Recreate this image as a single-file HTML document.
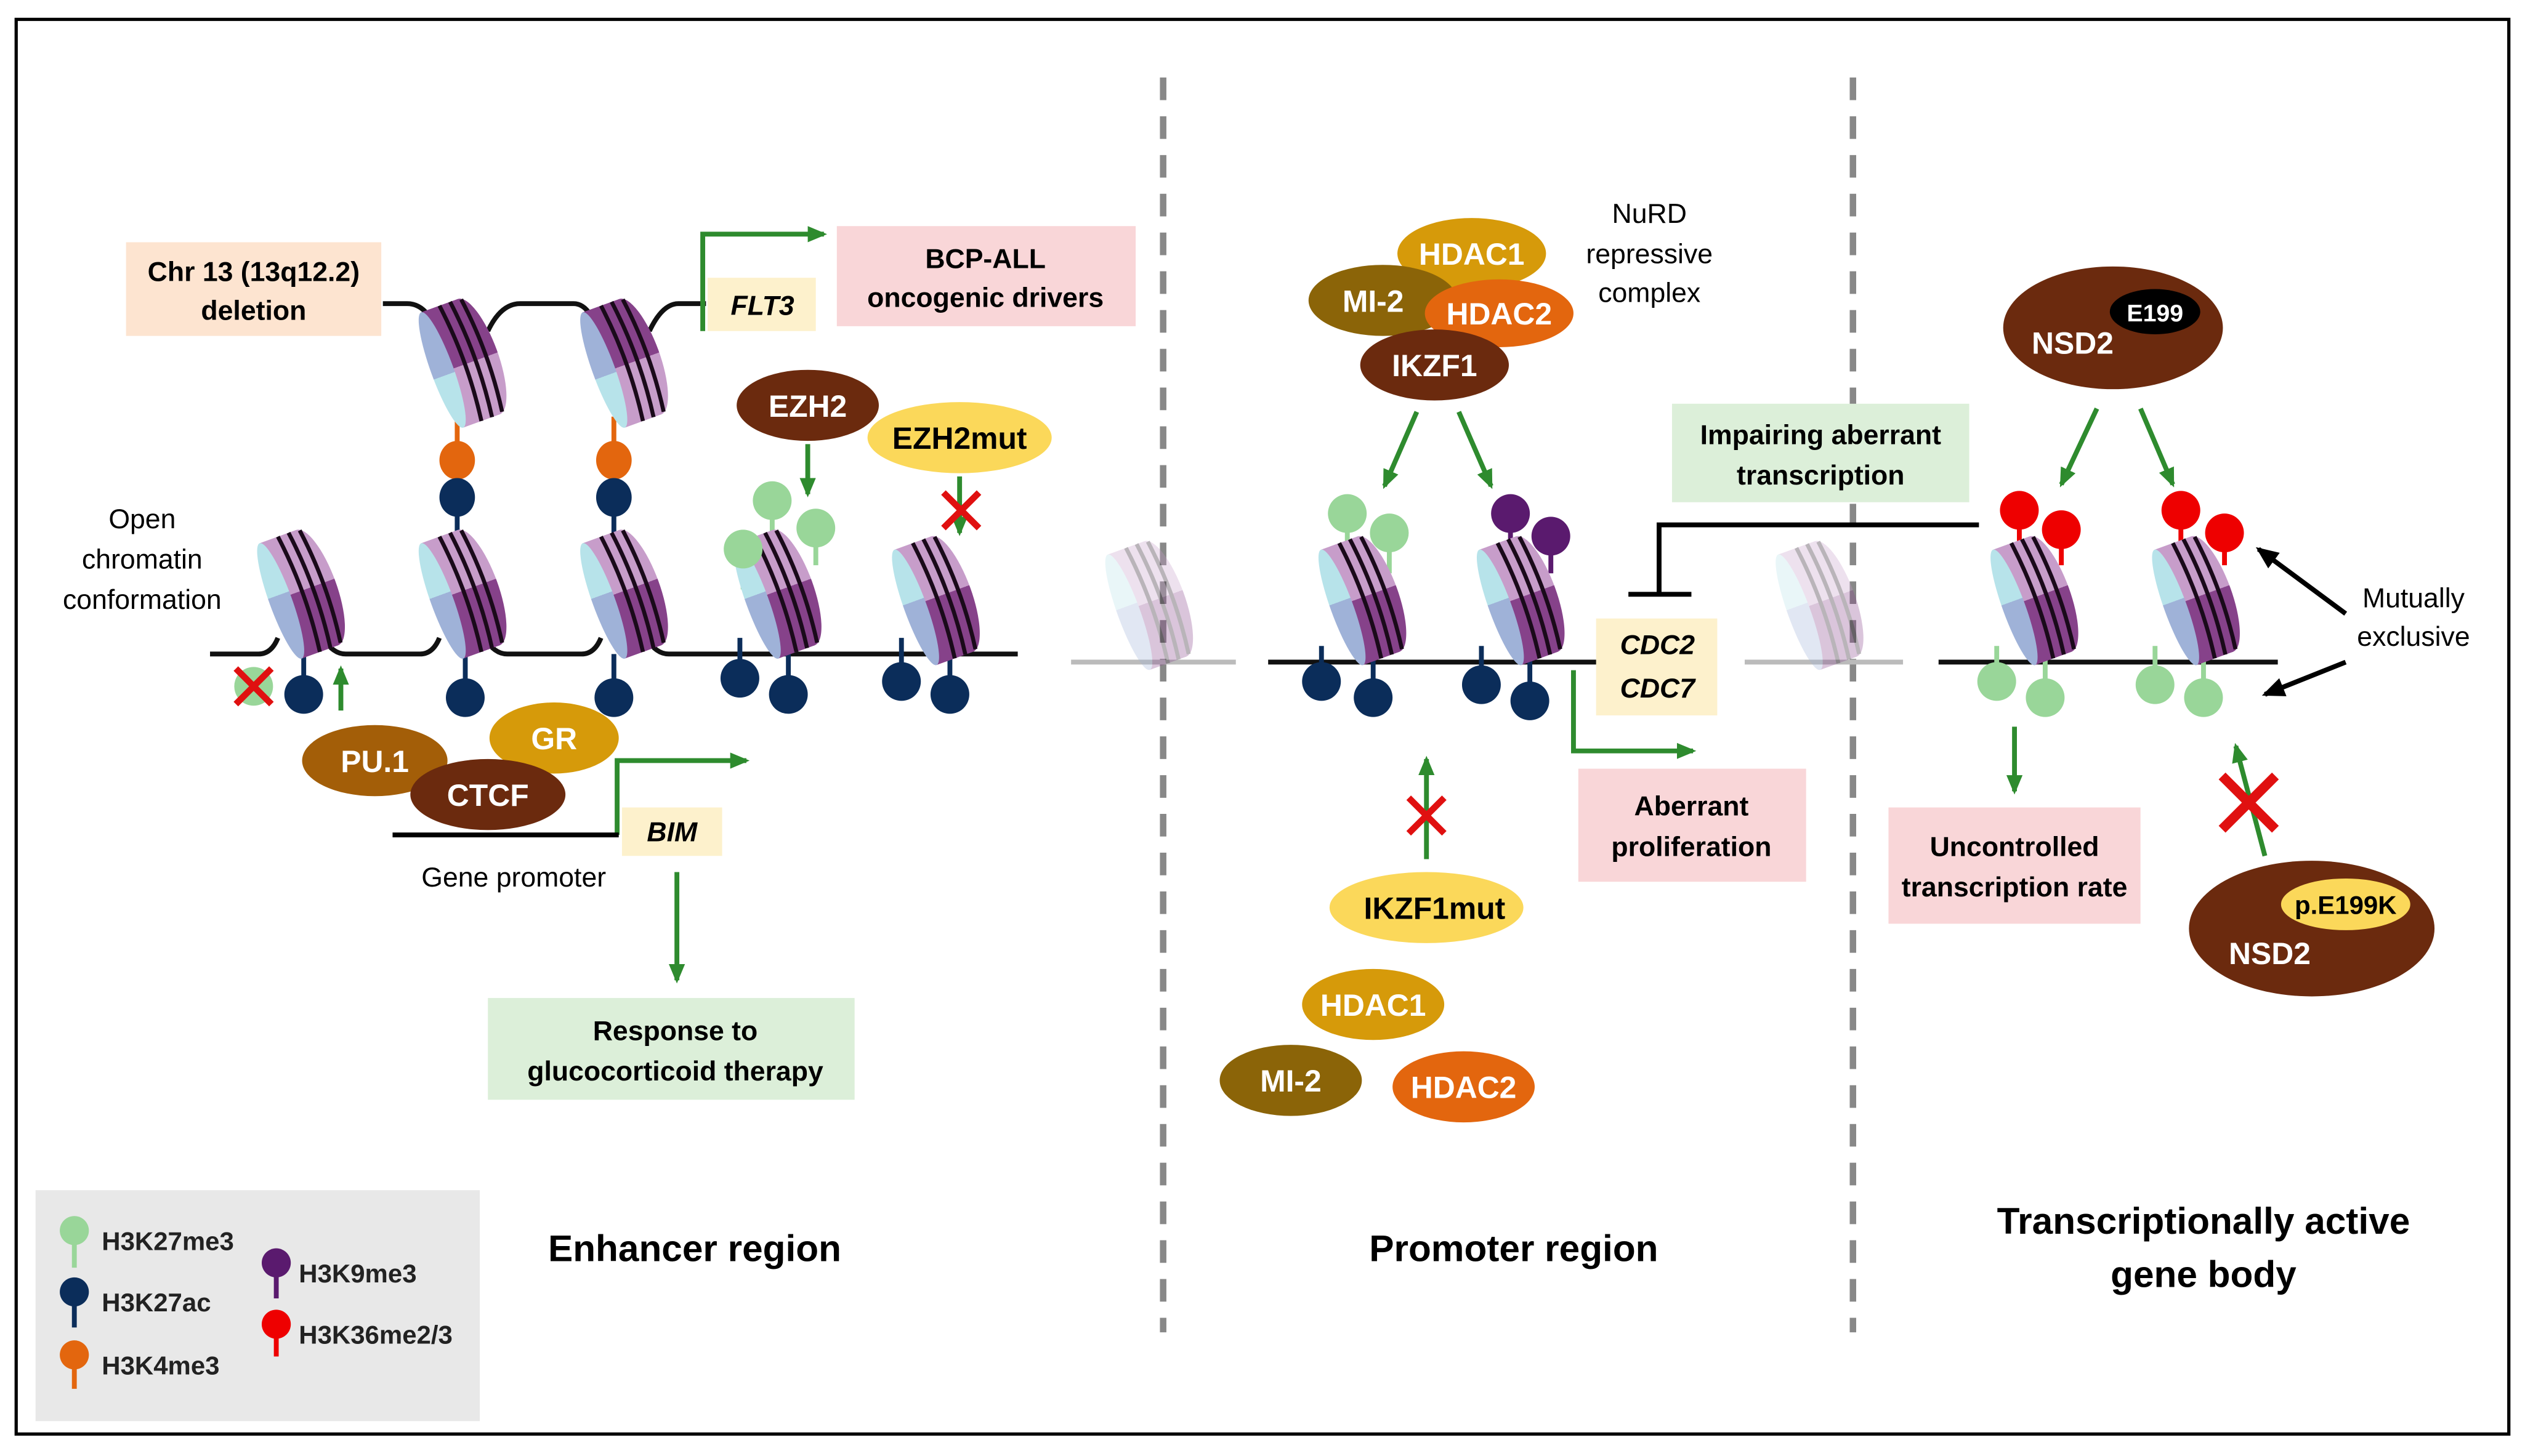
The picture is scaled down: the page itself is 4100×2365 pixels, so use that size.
<!DOCTYPE html>
<html><head><meta charset="utf-8"><style>
html,body{margin:0;padding:0;background:#fff}
svg{display:block}
text{font-family:"Liberation Sans",sans-serif}
.b{font-weight:bold;font-size:17px}
.w{fill:#fff;font-weight:bold;font-size:19px}
.k{fill:#000;font-weight:bold;font-size:19px}
</style></head><body>
<svg width="4100" height="2365" viewBox="0 0 1563 901.6" xmlns="http://www.w3.org/2000/svg">
<defs>
<marker id="ga" markerWidth="12" markerHeight="10" refX="10" refY="5" orient="auto" markerUnits="userSpaceOnUse"><path d="M0,0 L12,5 L0,10 z" fill="#2e8b2e"/></marker>
<marker id="ka" markerWidth="14" markerHeight="12" refX="12" refY="6" orient="auto" markerUnits="userSpaceOnUse"><path d="M0,0 L14,6 L0,12 z" fill="#000"/></marker>
<linearGradient id="bodyL" gradientUnits="userSpaceOnUse" x1="0" y1="-38" x2="0" y2="38"><stop offset="0.48" stop-color="#c79dca"/><stop offset="0.48" stop-color="#86428a"/></linearGradient>
<linearGradient id="bodyU" gradientUnits="userSpaceOnUse" x1="0" y1="-38" x2="0" y2="38"><stop offset="0.52" stop-color="#86428a"/><stop offset="0.52" stop-color="#c79dca"/></linearGradient>
<linearGradient id="faceL" gradientUnits="userSpaceOnUse" x1="0" y1="-38" x2="0" y2="38"><stop offset="0.45" stop-color="#b7e3ea"/><stop offset="0.45" stop-color="#9fb2d8"/></linearGradient>
<linearGradient id="faceU" gradientUnits="userSpaceOnUse" x1="0" y1="-38" x2="0" y2="38"><stop offset="0.55" stop-color="#9fb2d8"/><stop offset="0.55" stop-color="#b7e3ea"/></linearGradient>
<g id="nuc">
<g transform="rotate(-20)">
<ellipse cx="12" cy="0" rx="12" ry="38" fill="url(#bodyL)"/>
<rect x="-12" y="-38" width="24" height="76" fill="url(#bodyL)"/>
<ellipse cx="-12" cy="0" rx="7" ry="38" fill="url(#faceL)"/>
<path d="M0,-38 Q5,0 0,38 M7,-38 Q12,0 7,38 M14,-37 Q19,0 14,37" stroke="#1a0a1a" stroke-width="2.5" fill="none"/>
</g>
</g>
<g id="nucU">
<g transform="rotate(-20)">
<ellipse cx="12" cy="0" rx="12" ry="38" fill="url(#bodyU)"/>
<rect x="-12" y="-38" width="24" height="76" fill="url(#bodyU)"/>
<ellipse cx="-12" cy="0" rx="7" ry="38" fill="url(#faceU)"/>
<path d="M0,-38 Q5,0 0,38 M7,-38 Q12,0 7,38 M14,-37 Q19,0 14,37" stroke="#1a0a1a" stroke-width="2.5" fill="none"/>
</g>
</g>
<g id="x"><path d="M-11,-11 L11,11 M11,-11 L-11,11" stroke="#e01010" stroke-width="4"/></g>
</defs>
<rect x="10" y="12" width="1543" height="876" fill="#fff" stroke="#000" stroke-width="2"/>
<path d="M720,48 V825 M1147,48 V825" stroke="#888" stroke-width="4" stroke-dasharray="14 10"/>

<!-- DNA -->
<path d="M237,188 H252 Q262,188 268,200 M302,205 Q310,188 322,188 H355 Q363,188 368,200 M402,205 Q410,188 420,188 H437" stroke="#111" stroke-width="3" fill="none"/>
<path d="M130,405 H160 Q168,405 172,395 M200,395 Q206,405 214,405 H260 Q268,405 272,395 M300,395 Q306,405 314,405 H360 Q368,405 372,395 M400,395 Q406,405 414,405 H630" stroke="#111" stroke-width="3" fill="none"/>
<path d="M663,410 H765 M1080,410 H1178" stroke="#bbb" stroke-width="3"/>
<path d="M785,410 H990 M1200,410 H1410" stroke="#111" stroke-width="3"/>

<!-- stems -->
<g stroke-width="3">
<path d="M283,258 V283 M380,258 V283" stroke="#e3660e"/>
<path d="M283,308 V335 M380,308 V335" stroke="#0b2d5a"/>
<path d="M188,405 V430 M288,405 V432 M380,405 V432 M458,395 V420 M488,405 V430 M558,395 V422 M588,405 V430" stroke="#0b2d5a"/>
<path d="M460,340 V365 M478,310 V345 M505,327 V350" stroke="#99d699"/>
<path d="M834,318 V350 M860,330 V355 M1236,422 V400 M1266,432 V400 M1334,424 V400 M1364,432 V400" stroke="#99d699"/>
<path d="M935,318 V350 M960,332 V355" stroke="#5a1a6e"/>
<path d="M818,422 V400 M850,432 V405 M917,424 V400 M947,434 V405" stroke="#0b2d5a"/>
<path d="M1250,316 V345 M1276,328 V350 M1350,316 V345 M1377,330 V350" stroke="#e00"/>
</g>

<use href="#nucU" x="285" y="225"/><use href="#nucU" x="385" y="225"/>
<use href="#nuc" x="185" y="368"/><use href="#nuc" x="285" y="368"/><use href="#nuc" x="385" y="368"/>
<use href="#nuc" x="480" y="368"/><use href="#nuc" x="578" y="372"/>
<use href="#nuc" x="710" y="375" opacity="0.3"/><use href="#nuc" x="1125" y="375" opacity="0.3"/>
<use href="#nuc" x="842" y="372"/><use href="#nuc" x="940" y="372"/>
<use href="#nuc" x="1258" y="372"/><use href="#nuc" x="1358" y="372"/>

<!-- marks -->
<g fill="#e3660e"><ellipse cx="283" cy="285" rx="11" ry="12"/><ellipse cx="380" cy="285" rx="11" ry="12"/></g>
<g fill="#0b2d5a"><ellipse cx="283" cy="308" rx="11" ry="12"/><ellipse cx="380" cy="308" rx="11" ry="12"/>
<circle cx="188" cy="430" r="12"/><circle cx="288" cy="432" r="12"/><circle cx="380" cy="432" r="12"/><circle cx="458" cy="420" r="12"/><circle cx="488" cy="430" r="12"/><circle cx="558" cy="422" r="12"/><circle cx="588" cy="430" r="12"/>
<circle cx="818" cy="422" r="12"/><circle cx="850" cy="432" r="12"/><circle cx="917" cy="424" r="12"/><circle cx="947" cy="434" r="12"/></g>
<g fill="#99d699"><circle cx="460" cy="340" r="12"/><circle cx="478" cy="310" r="12"/><circle cx="505" cy="327" r="12"/><circle cx="157" cy="425" r="12"/>
<circle cx="834" cy="318" r="12"/><circle cx="860" cy="330" r="12"/>
<circle cx="1236" cy="422" r="12"/><circle cx="1266" cy="432" r="12"/><circle cx="1334" cy="424" r="12"/><circle cx="1364" cy="432" r="12"/></g>
<g fill="#5a1a6e"><circle cx="935" cy="318" r="12"/><circle cx="960" cy="332" r="12"/></g>
<g fill="#e00"><circle cx="1250" cy="316" r="12"/><circle cx="1276" cy="328" r="12"/><circle cx="1350" cy="316" r="12"/><circle cx="1377" cy="330" r="12"/></g>
<use href="#x" x="157" y="425"/>

<!-- green arrows -->
<g stroke="#2e8b2e" stroke-width="3" fill="none" marker-end="url(#ga)">
<path d="M211,440 V414"/>
<path d="M435,205 V145 H510"/>
<path d="M500,275 V306"/>
<path d="M594,295 V330"/>
<path d="M382,517 V471 H462"/>
<path d="M419,540 V607"/>
<path d="M877,255 L857,301"/><path d="M903,255 L923,301"/>
<path d="M974,415 V465 H1048"/>
<path d="M883,532 V470"/>
<path d="M1298,253 L1276,300"/><path d="M1325,253 L1345,300"/>
<path d="M1247,450 V490"/>
<path d="M1402,530 L1384,462"/>
</g>
<use href="#x" x="595" y="316"/><use href="#x" x="883" y="505"/>
<g transform="translate(1392,497) scale(1.5)"><use href="#x"/></g>

<!-- inhibition -->
<path d="M1225,325 H1027 V368 M1008,368 H1047" stroke="#000" stroke-width="3" fill="none"/>
<g stroke="#000" stroke-width="3" marker-end="url(#ka)"><path d="M1452,380 L1398,340"/><path d="M1452,410 L1402,430"/></g>

<!-- boxes -->
<rect x="78" y="150" width="158" height="58" fill="#fde4d0"/>
<text class="b" x="157" y="174" text-anchor="middle">Chr 13 (13q12.2)</text>
<text class="b" x="157" y="198" text-anchor="middle">deletion</text>
<rect x="438" y="172" width="67" height="33" fill="#fdf1cc"/>
<text class="b" x="472" y="195" text-anchor="middle" font-style="italic">FLT3</text>
<rect x="518" y="140" width="185" height="62" fill="#f9d6d8"/>
<text class="b" x="610" y="166" text-anchor="middle">BCP-ALL</text>
<text class="b" x="610" y="190" text-anchor="middle">oncogenic drivers</text>
<rect x="385" y="500" width="62" height="30" fill="#fdf1cc"/>
<text class="b" x="416" y="521" text-anchor="middle" font-style="italic">BIM</text>
<rect x="302" y="618" width="227" height="63" fill="#dcefd9"/>
<text class="b" x="418" y="644" text-anchor="middle">Response to</text>
<text class="b" x="418" y="669" text-anchor="middle">glucocorticoid therapy</text>
<rect x="988" y="383" width="75" height="60" fill="#fdf1cc"/>
<text class="b" x="1026" y="405" text-anchor="middle" font-style="italic">CDC2</text>
<text class="b" x="1026" y="432" text-anchor="middle" font-style="italic">CDC7</text>
<rect x="1035" y="250" width="184" height="61" fill="#dcefd9"/>
<text class="b" x="1127" y="275" text-anchor="middle">Impairing aberrant</text>
<text class="b" x="1127" y="300" text-anchor="middle">transcription</text>
<rect x="977" y="476" width="141" height="70" fill="#f9d6d8"/>
<text class="b" x="1047" y="505" text-anchor="middle">Aberrant</text>
<text class="b" x="1047" y="530" text-anchor="middle">proliferation</text>
<rect x="1169" y="500" width="156" height="72" fill="#f9d6d8"/>
<text class="b" x="1247" y="530" text-anchor="middle">Uncontrolled</text>
<text class="b" x="1247" y="555" text-anchor="middle">transcription rate</text>

<!-- proteins -->
<ellipse cx="500" cy="251" rx="44" ry="22" fill="#6b2a0e"/><text class="w" x="500" y="258" text-anchor="middle">EZH2</text>
<ellipse cx="594" cy="271" rx="57" ry="22" fill="#fbd85a"/><text class="k" x="594" y="278" text-anchor="middle">EZH2mut</text>
<ellipse cx="232" cy="471" rx="45" ry="22" fill="#a35e08"/><text class="w" x="232" y="478" text-anchor="middle">PU.1</text>
<ellipse cx="343" cy="457" rx="40" ry="22" fill="#d69a0a"/><text class="w" x="343" y="464" text-anchor="middle">GR</text>
<ellipse cx="302" cy="492" rx="48" ry="22" fill="#6b2a0e"/><text class="w" x="302" y="499" text-anchor="middle">CTCF</text>
<path d="M243,517 H383" stroke="#000" stroke-width="3"/>
<text x="318" y="549" font-size="17" text-anchor="middle">Gene promoter</text>
<text x="88" y="327" font-size="17" text-anchor="middle">Open</text>
<text x="88" y="352" font-size="17" text-anchor="middle">chromatin</text>
<text x="88" y="377" font-size="17" text-anchor="middle">conformation</text>

<ellipse cx="911" cy="157" rx="46" ry="22" fill="#d69a0a"/><text class="w" x="911" y="164" text-anchor="middle">HDAC1</text>
<ellipse cx="856" cy="186" rx="46" ry="22" fill="#8b6408"/><text class="w" x="850" y="193" text-anchor="middle">MI-2</text>
<ellipse cx="928" cy="194" rx="46" ry="21" fill="#e3660e"/><text class="w" x="928" y="201" text-anchor="middle">HDAC2</text>
<ellipse cx="888" cy="226" rx="46" ry="22" fill="#6b2a0e"/><text class="w" x="888" y="233" text-anchor="middle">IKZF1</text>
<text x="1021" y="138" font-size="17" text-anchor="middle">NuRD</text>
<text x="1021" y="163" font-size="17" text-anchor="middle">repressive</text>
<text x="1021" y="187" font-size="17" text-anchor="middle">complex</text>
<ellipse cx="883" cy="562" rx="60" ry="22" fill="#fbd85a"/><text class="k" x="888" y="569" text-anchor="middle">IKZF1mut</text>
<ellipse cx="850" cy="622" rx="44" ry="22" fill="#d69a0a"/><text class="w" x="850" y="629" text-anchor="middle">HDAC1</text>
<ellipse cx="799" cy="669" rx="44" ry="22" fill="#8b6408"/><text class="w" x="799" y="676" text-anchor="middle">MI-2</text>
<ellipse cx="906" cy="673" rx="44" ry="22" fill="#e3660e"/><text class="w" x="906" y="680" text-anchor="middle">HDAC2</text>

<ellipse cx="1308" cy="203" rx="68" ry="38" fill="#6b2a0e"/><text class="w" x="1283" y="219" text-anchor="middle">NSD2</text>
<ellipse cx="1334" cy="193" rx="28" ry="14" fill="#000"/><text x="1334" y="199" font-size="15" font-weight="bold" fill="#fff" text-anchor="middle">E199</text>
<ellipse cx="1431" cy="575" rx="76" ry="42" fill="#6b2a0e"/>
<ellipse cx="1452" cy="560" rx="40" ry="16" fill="#fbd85a"/><text x="1452" y="566" font-size="16" font-weight="bold" text-anchor="middle">p.E199K</text>
<text class="w" x="1405" y="597" text-anchor="middle">NSD2</text>
<text x="1494" y="376" font-size="17" text-anchor="middle">Mutually</text>
<text x="1494" y="400" font-size="17" text-anchor="middle">exclusive</text>

<text x="430" y="781" font-size="23" font-weight="bold" text-anchor="middle">Enhancer region</text>
<text x="937" y="781" font-size="23" font-weight="bold" text-anchor="middle">Promoter region</text>
<text x="1364" y="764" font-size="23" font-weight="bold" text-anchor="middle">Transcriptionally active</text>
<text x="1364" y="797" font-size="23" font-weight="bold" text-anchor="middle">gene body</text>

<!-- legend -->
<rect x="22" y="737" width="275" height="143" fill="#e8e8e8"/>
<g stroke-width="3">
<path d="M46,768 V785" stroke="#99d699"/><path d="M46,806 V822" stroke="#0b2d5a"/><path d="M46,845 V860" stroke="#e3660e"/>
<path d="M171,788 V804" stroke="#5a1a6e"/><path d="M171,826 V840" stroke="#e00"/>
</g>
<circle cx="46" cy="762" r="9" fill="#99d699"/><circle cx="46" cy="800" r="9" fill="#0b2d5a"/><circle cx="46" cy="839" r="9" fill="#e3660e"/>
<circle cx="171" cy="782" r="9" fill="#5a1a6e"/><circle cx="171" cy="820" r="9" fill="#e00"/>
<g font-size="16" font-weight="bold" fill="#222">
<text x="63" y="774">H3K27me3</text><text x="63" y="812">H3K27ac</text><text x="63" y="851">H3K4me3</text>
<text x="185" y="794">H3K9me3</text><text x="185" y="832">H3K36me2/3</text>
</g>
</svg>
</body></html>
